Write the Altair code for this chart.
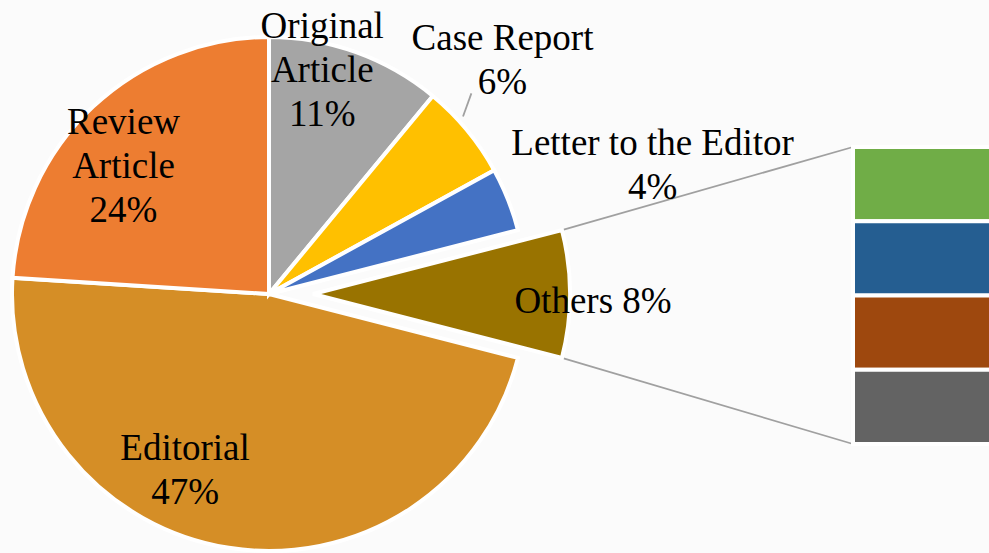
import math
import altair as alt
import pandas as pd

# ---------------- data ----------------
categories = ["Others", "Editorial", "Review Article", "Original Article",
              "Case Report", "Letter to the Editor"]
values = [8, 47, 24, 11, 6, 4]
label_names = ["Others", "Editorial", "Review\nArticle", "Original\nArticle",
               "Case Report", "Letter to the Editor"]
label_seps = [" ", "\n", "\n", "\n", "\n", "\n"]

bar_parts = ["Others part 1", "Others part 2", "Others part 3", "Others part 4"]
bar_values = [2, 2, 2, 2]

# ---------------- styles ----------------
slice_colors = ["#997300", "#D58E26", "#ED7D31", "#A5A5A5", "#FFC000", "#4472C4"]
bar_colors = ["#70AD47", "#255E91", "#9E480E", "#636363"]

W, H = 989, 553
CX, CY = 269, 294
R = 257
EXPLODE = 44
BAR_X0, BAR_X1 = 853, 1005
BAR_TOP, BAR_BOTTOM = 147, 444
FONT = "Liberation Serif"
FS = 37
LH = 44
LINE_COLOR = "#A0A0A0"

total = sum(values)
# pie-of-bar: the "Others" slice is centred on the right (3 o'clock)
rot = math.pi / 2 - values[0] / total * math.pi
theta_scale = alt.Scale(domain=[0, total], range=[rot, rot + 2 * math.pi])

pie_df = pd.DataFrame({
    "category": categories,
    "value": values,
    "name": label_names,
    "sep": label_seps,
    "idx": list(range(len(categories))),
})
bar_df = pd.DataFrame({
    "part": bar_parts,
    "value": bar_values,
    "idx": list(range(len(bar_parts))),
})

color_scale = alt.Scale(domain=categories, range=slice_colors)

base = alt.Chart(pie_df).transform_window(
    cum="sum(value)", sort=[alt.SortField("idx")], frame=[None, 0]
).transform_calculate(
    start="datum.cum - datum.value",
    mid="datum.cum - datum.value / 2",
    label="datum.name + datum.sep + datum.value + '%'",
)

arc_enc = dict(
    theta=alt.Theta("start:Q", scale=theta_scale, stack=None),
    theta2="cum:Q",
    color=alt.Color("category:N", scale=color_scale, legend=None),
    y=alt.value(CY),
)

main_pie = base.mark_arc(outerRadius=R, stroke="white", strokeWidth=4).encode(
    x=alt.value(CX), **arc_enc
).transform_filter(alt.datum.category != "Others")

others_pie = base.mark_arc(outerRadius=R, stroke="white", strokeWidth=4).encode(
    x=alt.value(CX + EXPLODE), **arc_enc
).transform_filter(alt.datum.category == "Others")

# label placement (style): radius, dx, dy, centre offset
label_place = {
    "Editorial": (185, -55, -6, 0),
    "Review Article": (195, -12, 15, 0),
    "Original Article": (231, -25, -6, 0),
    "Case Report": (329, -20, -23, 0),
    "Letter to the Editor": (405, 7, 21, 0),
    "Others": (280, 0, 8, EXPLODE),
}

labels = []
for cat, (rad, ddx, ddy, off) in label_place.items():
    i = categories.index(cat)
    n_lines = (label_names[i] + label_seps[i]).count("\n") + 1
    labels.append(
        base.mark_text(font=FONT, fontSize=FS, lineBreak="\n", lineHeight=LH,
                       align="center", baseline="middle", color="black",
                       radius=rad, dx=ddx, dy=ddy - (n_lines - 1) * LH / 2).encode(
            theta=alt.Theta("mid:Q", scale=theta_scale, stack=None),
            text="label:N",
            x=alt.value(CX + off),
            y=alt.value(CY),
        ).transform_filter(alt.datum.category == cat)
    )

two_pi = 2 * math.pi
ang = f"({rot} + datum.{{}} / {total} * {two_pi})"

conn_top = base.transform_filter(alt.datum.category == "Others").transform_calculate(
    px=f"{CX + EXPLODE} + {R} * sin({ang.format('start')})",
    py=f"{CY} - {R} * cos({ang.format('start')})",
).mark_rule(color=LINE_COLOR, strokeWidth=1.8).encode(
    x=alt.X("px:Q", scale=None), y=alt.Y("py:Q", scale=None),
    x2=alt.value(BAR_X0), y2=alt.value(BAR_TOP),
)
conn_bot = base.transform_filter(alt.datum.category == "Others").transform_calculate(
    px=f"{CX + EXPLODE} + {R} * sin({ang.format('cum')})",
    py=f"{CY} - {R} * cos({ang.format('cum')})",
).mark_rule(color=LINE_COLOR, strokeWidth=1.8).encode(
    x=alt.X("px:Q", scale=None), y=alt.Y("py:Q", scale=None),
    x2=alt.value(BAR_X0), y2=alt.value(BAR_BOTTOM),
)

# leader line for Case Report
leader = base.transform_filter(alt.datum.category == "Case Report").transform_calculate(
    a1=f"{ang.format('mid')} - 0.05",
    a2=f"{ang.format('mid')} - 0.09",
).transform_calculate(
    lx1=f"{CX} + {R + 6} * sin(datum.a1)",
    ly1=f"{CY} - {R + 6} * cos(datum.a1)",
    lx2=f"{CX} + {R + 28} * sin(datum.a2)",
    ly2=f"{CY} - {R + 28} * cos(datum.a2)",
).mark_rule(color=LINE_COLOR, strokeWidth=1.8).encode(
    x=alt.X("lx1:Q", scale=None), y=alt.Y("ly1:Q", scale=None),
    x2="lx2:Q", y2="ly2:Q",
)

bar = alt.Chart(bar_df).transform_stack(
    stack="value", as_=["y0", "y1"], groupby=[],
    sort=[alt.SortField("idx", order="descending")],
).mark_rect(stroke="white", strokeWidth=4).encode(
    x=alt.value(BAR_X0),
    x2=alt.value(BAR_X1),
    y=alt.Y("y0:Q", axis=None,
            scale=alt.Scale(domain=[0, sum(bar_values)], range=[BAR_BOTTOM, BAR_TOP],
                            nice=False, zero=False)),
    y2="y1:Q",
    color=alt.Color("part:N", scale=alt.Scale(domain=bar_parts, range=bar_colors), legend=None),
)

chart = alt.layer(
    conn_top, conn_bot, leader, main_pie, others_pie, bar, *labels
).resolve_scale(
    color="independent", x="independent", y="independent"
).properties(
    width=W, height=H, padding=0, autosize=alt.AutoSizeParams(type="none"),
    background="#FBFBFB",
).configure_view(stroke=None)

chart.save("out.html", embed_options={"renderer": "svg", "actions": False})
